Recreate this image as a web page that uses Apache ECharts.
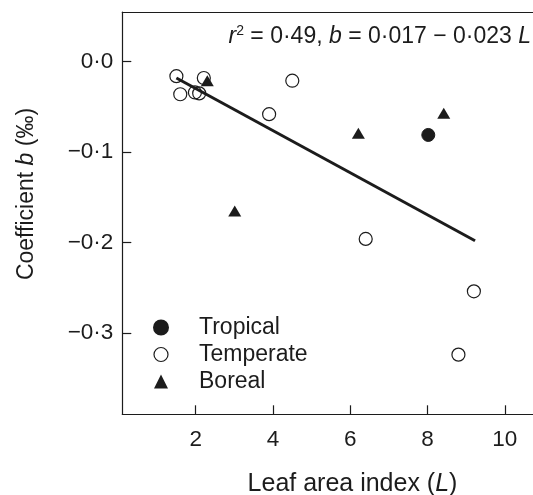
<!DOCTYPE html>
<html><head><meta charset="utf-8">
<script src="https://cdn.jsdelivr.net/npm/echarts@6/dist/echarts.min.js"></script>
<style>html,body{margin:0;padding:0;background:#fff}#c{width:533px;height:495px}</style>
</head><body><div id="c"></div>
<script>
var tropical = [[8.02, -0.081]];
var temperate = [[1.5, -0.016], [1.6, -0.036], [1.98, -0.034], [2.09, -0.035], [2.21, -0.018], [3.9, -0.058], [4.5, -0.021], [6.4, -0.196], [9.2, -0.254], [8.8, -0.324]];
var boreal = [[2.3, -0.021], [3.01, -0.165], [6.21, -0.079], [8.42, -0.057]];
var fitLine = [[1.5, -0.018], [9.23, -0.198]];
var xTicks = [2, 4, 6, 8, 10];
var yTicks = [0, -0.1, -0.2, -0.3];
var seriesNames = ['Tropical', 'Temperate', 'Boreal'];

var ink = '#1c1c1c';
var font = 'Liberation Sans, Arial, Helvetica, sans-serif';
function fmtY(v){ var s = Math.abs(v).toFixed(1).replace('.', '·'); return (v < -1e-9 ? '−' : '') + s; }

var X_MIN = 0.1, X_MAX = 10.73;
var chart = echarts.init(document.getElementById('c'), null, {renderer: 'canvas'});
chart.setOption({
  animation: false,
  backgroundColor: '#fff',
  textStyle: {fontFamily: font, color: ink},
  grid: {left: 122.3, top: 12, right: 0, bottom: 80.7, show: false, containLabel: false},
  xAxis: [{
    type: 'value', min: X_MIN, max: X_MAX,
    splitLine: {show: false},
    axisLine: {show: true, onZero: false, lineStyle: {color: ink, width: 1.2}},
    axisTick: {show: true, inside: true, length: 9, lineStyle: {color: ink, width: 1.2}, customValues: xTicks},
    axisLabel: {customValues: xTicks, margin: 13.5, fontSize: 22.5, color: ink, fontFamily: font}
  }, {
    type: 'value', position: 'top', min: X_MIN, max: X_MAX,
    splitLine: {show: false}, axisTick: {show: false}, axisLabel: {show: false},
    axisLine: {show: true, onZero: false, lineStyle: {color: ink, width: 1.2}}
  }],
  yAxis: {
    type: 'value', min: -0.39, max: 0.055,
    splitLine: {show: false},
    axisLine: {show: true, onZero: false, lineStyle: {color: ink, width: 1.2}},
    axisTick: {show: true, inside: true, length: 9, lineStyle: {color: ink, width: 1.2}, customValues: yTicks},
    axisLabel: {customValues: yTicks, margin: 9, fontSize: 22.5, color: ink, fontFamily: font, formatter: fmtY}
  },
  legend: {
    orient: 'vertical', left: 153, top: 316, padding: 0, itemGap: 4, itemWidth: 14, itemHeight: 14,
    textStyle: {fontSize: 23, color: ink, fontFamily: font, padding: [0, 0, 0, 26]},
    data: [
      {name: seriesNames[0], icon: 'circle'},
      {name: seriesNames[1], icon: 'circle', itemStyle: {borderWidth: 1.2}},
      {name: seriesNames[2], icon: 'triangle'}
    ]
  },
  title: {
    text: '{i|r}{sup|2} = 0·49, {i|b} = 0·017 − 0·023 {i|L}',
    right: 2, top: 24, padding: 0,
    textStyle: {
      fontSize: 23, fontWeight: 'normal', color: ink, fontFamily: font,
      rich: {
        i: {fontStyle: 'italic', fontSize: 23, color: ink, fontFamily: font},
        sup: {fontSize: 14, verticalAlign: 'top', padding: [0, 0, 12, 0], color: ink, fontFamily: font}
      }
    }
  },
  graphic: [
    {type: 'text', x: 352.5, y: 484.5, style: {
      text: 'Leaf area index ({i|L})', fill: ink, font: '25px ' + font, align: 'center', verticalAlign: 'middle',
      rich: {i: {fontStyle: 'italic', fontSize: 25, fontFamily: font, fill: ink}}
    }},
    {type: 'text', x: 27, y: 194, rotation: Math.PI / 2, style: {
      text: 'Coefficient {i|b} (‰)', fill: ink, font: '23px ' + font, align: 'center', verticalAlign: 'middle',
      rich: {i: {fontStyle: 'italic', fontSize: 23, fontFamily: font, fill: ink}}
    }}
  ],
  series: [
    {name: 'fit', type: 'line', data: fitLine, symbol: 'none', lineStyle: {color: ink, width: 3}, z: 1, silent: true},
    {name: seriesNames[0], type: 'scatter', data: tropical, symbol: 'circle', symbolSize: 13,
      itemStyle: {color: ink, borderColor: ink, borderWidth: 1, opacity: 1}, z: 3},
    {name: seriesNames[1], type: 'scatter', data: temperate, symbol: 'circle', symbolSize: 13,
      itemStyle: {color: 'rgba(255,255,255,0)', borderColor: ink, borderWidth: 1.2, opacity: 1}, z: 2},
    {name: seriesNames[2], type: 'scatter', data: boreal, symbol: 'triangle', symbolSize: [13, 11],
      itemStyle: {color: ink, borderColor: ink, borderWidth: 0, opacity: 1}, z: 3}
  ]
});
</script></body></html>
